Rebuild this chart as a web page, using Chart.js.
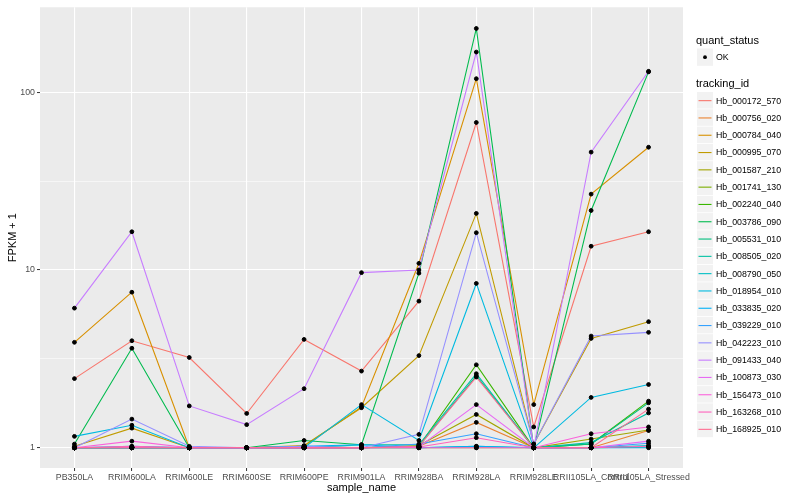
<!DOCTYPE html>
<html>
<head>
<meta charset="utf-8">
<title>FPKM by sample</title>
<script src="https://cdn.jsdelivr.net/npm/chart.js@4.4.0/dist/chart.umd.min.js"></script>
<style>
  html, body { margin: 0; padding: 0; background: #fff; }
  canvas { display: block; }
</style>
</head>
<body>
<canvas id="chart" width="800" height="500"></canvas>
<script>
// ── data (FPKM + 1, log scale) ──
const SAMPLES = ['PB350LA', 'RRIM600LA', 'RRIM600LE', 'RRIM600SE', 'RRIM600PE', 'RRIM901LA',
  'RRIM928BA', 'RRIM928LA', 'RRIM928LE', 'RRII105LA_Control', 'RRII105LA_Stressed'];

const TRACKING_IDS = ['Hb_000172_570', 'Hb_000756_020', 'Hb_000784_040', 'Hb_000995_070',
  'Hb_001587_210', 'Hb_001741_130', 'Hb_002240_040', 'Hb_003786_090', 'Hb_005531_010',
  'Hb_008505_020', 'Hb_008790_050', 'Hb_018954_010', 'Hb_033835_020', 'Hb_039229_010',
  'Hb_042223_010', 'Hb_091433_040', 'Hb_100873_030', 'Hb_156473_010', 'Hb_163268_010',
  'Hb_168925_010'];

// ggplot default hue palette, 20 levels
const HUES = ['#F8766D', '#EA8331', '#D89000', '#C09B00', '#A3A500', '#7CAE00', '#39B600',
  '#00BB4E', '#00BF7D', '#00C1A3', '#00BFC4', '#00BAE0', '#00B0F6', '#35A2FF', '#9590FF',
  '#C77CFF', '#E76BF3', '#FA62DB', '#FF62BC', '#FF6C91'];

const hb_000172_570 = [2.45, 4.0, 3.22, 1.56, 4.07, 2.7, 6.68, 67.5, 1.31, 13.6, 16.4];
const hb_000756_020 = [1, 1, 1, 1, 1, 1, 1.02, 1.39, 1, 1.0, 1.25];
const hb_000784_040 = [3.92, 7.5, 1.0, 1.0, 1.02, 1.7, 10.9, 119, 1.75, 26.7, 49];
const hb_000995_070 = [1.02, 1.29, 1.0, 1.0, 1.03, 1.68, 3.3, 20.8, 1.05, 4.12, 5.12];
const hb_001587_210 = [1, 1, 1, 1, 1, 1, 1.03, 1.54, 1, 1.12, 1.26];
const hb_001741_130 = [1, 1, 1, 1, 1, 1, 1, 1.0, 1, 1.0, 1.01];
const hb_002240_040 = [1, 1, 1, 1, 1, 1, 1.02, 2.93, 1, 1.05, 1.83];
const hb_003786_090 = [1.05, 3.63, 1, 1, 1.1, 1.04, 9.6, 228, 1.0, 21.6, 130];
const hb_005531_010 = [1, 1, 1, 1, 1.02, 1.0, 1.02, 2.54, 1, 1.05, 1.79];
const hb_008505_020 = [1, 1, 1, 1, 1, 1.04, 1.04, 2.61, 1, 1.07, 1.57];
const hb_008790_050 = [1, 1, 1, 1, 1, 1, 1, 1.02, 1, 1, 1.03];
const hb_018954_010 = [1.16, 1.34, 1.0, 1.0, 1.0, 1.75, 1.1, 8.4, 1.0, 1.92, 2.27];
const hb_033835_020 = [1, 1.02, 1, 1, 1.02, 1.04, 1, 1.02, 1, 1.0, 1.0];
const hb_039229_010 = [1, 1, 1, 1, 1, 1, 1.05, 1.2, 1, 1.0, 1.06];
const hb_042223_010 = [1.0, 1.45, 1.02, 1.0, 1.02, 1.0, 1.19, 16.2, 1.05, 4.25, 4.46];
const hb_091433_040 = [6.1, 16.4, 1.72, 1.35, 2.15, 9.66, 10.0, 168, 1.0, 46, 131];
const hb_100873_030 = [1, 1, 1, 1, 1, 1, 1.01, 1.75, 1, 1.0, 1.09];
const hb_156473_010 = [1, 1.09, 1, 1, 1, 1, 1, 1.0, 1, 1.2, 1.31];
const hb_163268_010 = [1, 1.02, 1, 1, 1, 1, 1.01, 1.14, 1, 1.0, 1.02];
const hb_168925_010 = [1, 1, 1, 1, 1, 1, 1.02, 2.5, 1, 1.0, 1.65];

const Y_MAJOR = [1, 10, 100];

const SERIES = [hb_000172_570, hb_000756_020, hb_000784_040, hb_000995_070, hb_001587_210,
  hb_001741_130, hb_002240_040, hb_003786_090, hb_005531_010, hb_008505_020, hb_008790_050,
  hb_018954_010, hb_033835_020, hb_039229_010, hb_042223_010, hb_091433_040, hb_100873_030,
  hb_156473_010, hb_163268_010, hb_168925_010];

const FONT = '"Liberation Sans", Arial, Helvetica, sans-serif';

// ── datasets: one line per tracking_id, then all the points on top ──
const lineSets = SERIES.map((vals, k) => ({
  label: TRACKING_IDS[k],
  data: vals.map((v, i) => ({ x: i, y: v })),
  borderColor: HUES[k],
  backgroundColor: HUES[k],
  borderWidth: 1.1,
  pointRadius: 0,
  tension: 0,
  order: SERIES.length - k,
}));

const pointSet = {
  type: 'scatter',
  label: 'OK',
  data: SERIES.flatMap(vals => vals.map((v, i) => ({ x: i, y: v }))),
  backgroundColor: '#000',
  borderColor: '#000',
  pointRadius: 1.9,
  showLine: false,
  order: 0,
};

// grey ggplot panel behind everything
const panelBg = {
  id: 'panelBg',
  beforeDraw(chart) {
    const { ctx, chartArea: a } = chart;
    ctx.save();
    ctx.fillStyle = '#EBEBEB';
    ctx.fillRect(a.left, a.top, a.right - a.left, a.bottom - a.top);
    ctx.restore();
  },
};

// two-part legend like ggplot: quant_status + tracking_id
const ggLegend = {
  id: 'ggLegend',
  afterDraw(chart) {
    const { ctx, chartArea } = chart;
    const x0 = chartArea.right + 14;
    const keyW = 16, keyH = 17.3;
    ctx.save();
    ctx.textBaseline = 'middle';
    ctx.textAlign = 'left';

    ctx.fillStyle = '#000';
    ctx.font = '11px ' + FONT;
    ctx.fillText('quant_status', x0 - 1, 41);
    ctx.fillStyle = '#F2F2F2';
    ctx.fillRect(x0, 48.5, keyW, keyH);
    ctx.fillStyle = '#000';
    ctx.beginPath();
    ctx.arc(x0 + keyW / 2, 48.5 + keyH / 2, 1.9, 0, Math.PI * 2);
    ctx.fill();
    ctx.font = '8.8px ' + FONT;
    ctx.fillText('OK', x0 + 19, 57.5);

    ctx.font = '11px ' + FONT;
    ctx.fillText('tracking_id', x0 - 1, 84);
    TRACKING_IDS.forEach((id, k) => {
      const top = 92 + k * keyH;
      ctx.fillStyle = '#F2F2F2';
      ctx.fillRect(x0, top, keyW, keyH - 0.8);
      ctx.strokeStyle = HUES[k];
      ctx.lineWidth = 1.1;
      ctx.beginPath();
      ctx.moveTo(x0 + 1.5, top + keyH / 2);
      ctx.lineTo(x0 + keyW - 1.5, top + keyH / 2);
      ctx.stroke();
      ctx.fillStyle = '#000';
      ctx.font = '8.8px ' + FONT;
      ctx.fillText(id, x0 + 19, top + keyH / 2 + 0.5);
    });
    ctx.restore();
  },
};

new Chart(document.getElementById('chart'), {
  type: 'line',
  data: { datasets: [pointSet, ...lineSets] },
  plugins: [panelBg, ggLegend],
  options: {
    responsive: false,
    animation: false,
    events: [],
    layout: { padding: { top: 5, right: 117, bottom: 0, left: 0 } },
    plugins: { legend: { display: false }, tooltip: { enabled: false } },
    scales: {
      x: {
        type: 'linear',
        min: -0.6,
        max: SAMPLES.length - 1 + 0.6,
        afterBuildTicks: s => { s.ticks = SAMPLES.map((_, i) => ({ value: i })); },
        afterFit: s => { s.height = 32; },
        ticks: {
          autoSkip: false, maxRotation: 0, minRotation: 0, padding: 1.5,
          color: '#4D4D4D', font: { family: FONT, size: 8.8 },
          callback: v => SAMPLES[v],
        },
        grid: { color: '#FFFFFF', lineWidth: 1.1, tickLength: 3, tickColor: '#333333', tickWidth: 1 },
        border: { display: false },
        title: {
          display: true, text: 'sample_name', color: '#000',
          font: { family: FONT, size: 11 }, padding: { top: 0, bottom: 5 },
        },
      },
      y: {
        type: 'logarithmic',
        min: 0.77,
        max: 300,
        afterBuildTicks: s => {
          const t = [];
          Y_MAJOR.forEach(m => { t.push({ value: m }); t.push({ value: m * Math.sqrt(10) }); });
          s.ticks = t.filter(o => o.value <= s.max);
        },
        afterFit: s => { s.width = 40; },
        ticks: {
          padding: 2, color: '#4D4D4D', font: { family: FONT, size: 8.8 },
          callback: v => (Y_MAJOR.includes(v) ? String(v) : ''),
        },
        grid: {
          color: '#FFFFFF',
          lineWidth: c => (c.tick && Y_MAJOR.includes(c.tick.value) ? 1.1 : 0.55),
          tickLength: 3,
          tickWidth: 1,
          tickColor: c => (c.tick && Y_MAJOR.includes(c.tick.value) ? '#333333' : 'rgba(0,0,0,0)'),
        },
        border: { display: false },
        title: {
          display: true, text: 'FPKM + 1', color: '#000',
          font: { family: FONT, size: 11 }, padding: { top: 6, bottom: 0 },
        },
      },
    },
  },
});
</script>
</body>
</html>
